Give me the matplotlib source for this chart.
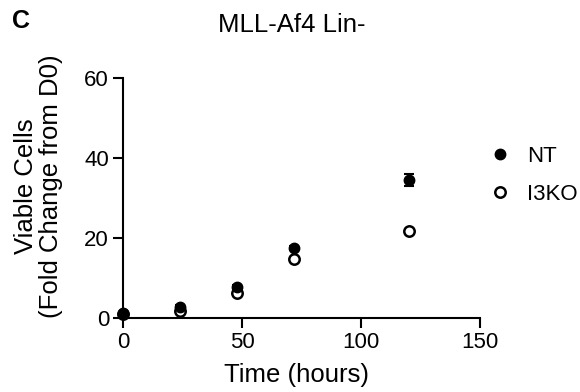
import matplotlib
matplotlib.use("Agg")
import matplotlib.pyplot as plt
import numpy as np

plt.rcParams['font.family'] = ['Liberation Sans', 'DejaVu Sans']

# data
time_h = [0, 24, 48, 72, 120]
nt_vals = [1.2, 2.75, 7.75, 17.5, 34.5]
nt_err = [0.2, 0.4, 0.5, 0.6, 1.5]
ko_vals = [1.0, 1.75, 6.25, 14.75, 21.75]
ko_err = [0.1, 0.3, 0.4, 0.5, 0.4]
xticks = [0, 50, 100, 150]
yticks = [0, 20, 40, 60]

W, H = 580, 392
fig = plt.figure(figsize=(5.8, 3.92), dpi=100)
ax = fig.add_axes([123 / W, 1 - 318 / H, 357 / W, 240 / H])

# NT sits on top of I3KO where they overlap
nt = ax.errorbar(time_h, nt_vals, yerr=nt_err, fmt='o', color='black', ms=7.5,
                 capsize=3.5, elinewidth=1.5, capthick=1.5, clip_on=False,
                 zorder=4)
ko = ax.errorbar(time_h, ko_vals, yerr=ko_err, fmt='o', color='black',
                 mfc='white', mew=1.8, ms=7.5, capsize=3.5, elinewidth=1.5,
                 capthick=1.5, clip_on=False, zorder=3)

ax.set_xlim(0, 150)
ax.set_ylim(0, 60)
ax.set_xticks(xticks)
ax.set_yticks(yticks)
for s in ['top', 'right']:
    ax.spines[s].set_visible(False)
for s in ['left', 'bottom']:
    ax.spines[s].set_linewidth(1.5)
ax.tick_params(width=1.5, length=7, labelsize=16, pad=3)

ax.set_xlabel('Time (hours)', fontsize=18.5)
ax.xaxis.label.set_va('baseline')
ax.xaxis.set_label_coords(0.485, -64 / 240)

ax.set_ylabel('Viable Cells\n(Fold Change from D0)', fontsize=18.5,
              linespacing=1.05)
ax.yaxis.set_label_coords(-60 / 357, 0.55)

fig.text(292 / W, 1 - 32 / H, 'MLL-Af4 Lin-', fontsize=18.5, ha='center',
         va='baseline')
fig.text(12 / W, 1 - 28 / H, 'C', fontsize=18, fontweight='bold',
         va='baseline')

ax.legend([nt.lines[0], ko.lines[0]], ['NT', 'I3KO'], loc='upper left',
          bbox_to_anchor=(489 / W, 1 - 146 / H),
          bbox_transform=fig.transFigure, frameon=False, fontsize=16,
          borderpad=0, borderaxespad=0, handlelength=1.0,
          handletextpad=0.7, labelspacing=0.75)

fig.savefig('out.png', dpi=100)
